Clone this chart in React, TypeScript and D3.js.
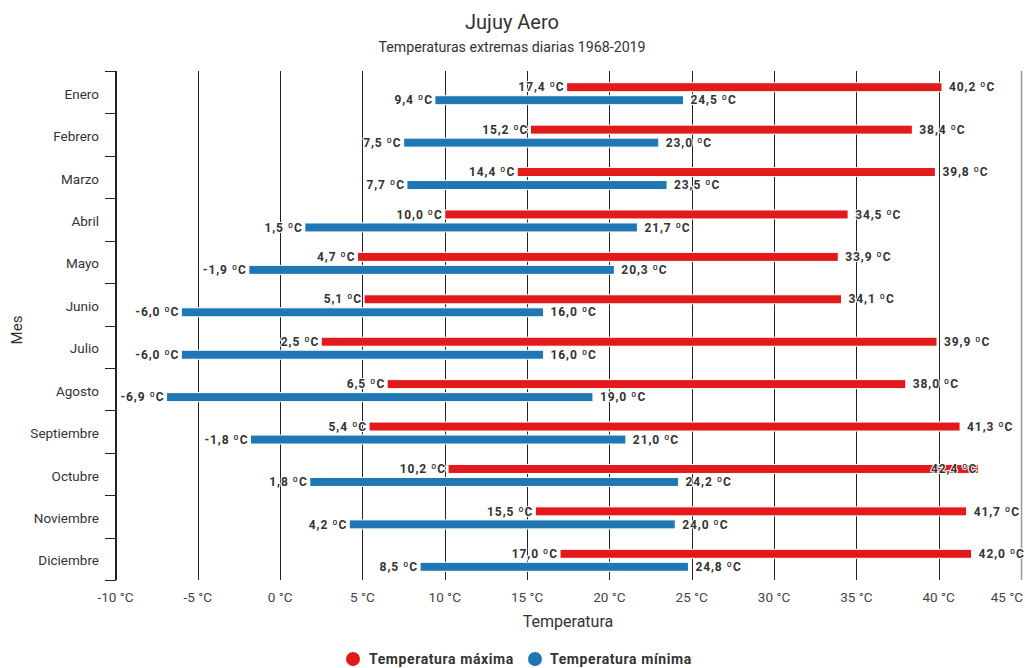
import React from "react";
import * as d3 from "d3";

const months = ["Enero","Febrero","Marzo","Abril","Mayo","Junio","Julio","Agosto","Septiembre","Octubre","Noviembre","Diciembre"];
const maxLow = [17.4,15.2,14.4,10.0,4.7,5.1,2.5,6.5,5.4,10.2,15.5,17.0];
const maxHigh = [40.2,38.4,39.8,34.5,33.9,34.1,39.9,38.0,41.3,42.4,41.7,42.0];
const minLow = [9.4,7.5,7.7,1.5,-1.9,-6.0,-6.0,-6.9,-1.8,1.8,4.2,8.5];
const minHigh = [24.5,23.0,23.5,21.7,20.3,16.0,16.0,19.0,21.0,24.2,24.0,24.8];
const xTicks = [-10,-5,0,5,10,15,20,25,30,35,40,45];

const W = 1025, H = 668;
const RED = "#e31a1c", BLUE = "#1f78b4";
const FONT = "Roboto, sans-serif";

const fmt = (v: number) => v.toFixed(1).replace(".", ",") + " ºC";

export default function App() {
  const x = d3.scaleLinear().domain([-10, 45]).range([115.5, 1021]);
  const y = d3.scaleBand().domain(months).range([71, 580]);
  const bw = y.bandwidth();
  const labelW = 46;

  const series = [
    { lows: maxLow, highs: maxHigh, color: RED, off: -5 },
    { lows: minLow, highs: minHigh, color: BLUE, off: 8 },
  ];

  const labelStyle: React.CSSProperties = {
    fontFamily: FONT, fontSize: 12, fontWeight: 700, fill: "#333",
    stroke: "#fff", strokeWidth: 2, paintOrder: "stroke", strokeLinejoin: "round",
    letterSpacing: 0.9,
  };

  return (
    <svg width={W} height={H} style={{ position: "absolute", left: 0, top: 0, background: "#fff" }}>
      <rect width={W} height={H} fill="#fff" />
      <text x={512} y={29} textAnchor="middle" style={{ fontFamily: FONT, fontSize: 20, fill: "#333" }}>Jujuy Aero</text>
      <text x={512} y={52} textAnchor="middle" style={{ fontFamily: FONT, fontSize: 14.2, fill: "#333" }}>Temperaturas extremas diarias 1968-2019</text>

      {xTicks.map((t) => (
        <line key={"g" + t} x1={Math.round(x(t)) + 0.5} x2={Math.round(x(t)) + 0.5} y1={71} y2={580}
          stroke={t === 45 ? "#999" : "#222"} strokeWidth={t === 45 ? 1.5 : 1} />
      ))}
      {xTicks.map((t, i) => {
        const last = i === xTicks.length - 1;
        return (
          <text key={"t" + t} x={last ? 1023 : x(t)} y={598} textAnchor={last ? "end" : "middle"} dominantBaseline="middle"
            style={{ fontFamily: FONT, fontSize: 13.5, fill: "#444" }}>{t + " °C"}</text>
        );
      })}
      <text x={568} y={627} textAnchor="middle" style={{ fontFamily: FONT, fontSize: 16, fill: "#333" }}>Temperatura</text>

      <line x1={115.5} x2={115.5} y1={71} y2={580} stroke="#222" />
      {months.concat(["__end"]).map((m, i) => {
        const yy = Math.round(71 + i * bw) + 0.5;
        return <line key={"yt" + i} x1={105} x2={116} y1={yy} y2={yy} stroke="#222" />;
      })}
      {months.map((m) => (
        <text key={"c" + m} x={99} y={(y(m) as number) + bw / 2 + 3} textAnchor="end" dominantBaseline="middle"
          style={{ fontFamily: FONT, fontSize: 13.5, fill: "#333" }}>{m}</text>
      ))}
      <text transform={`translate(22,330) rotate(-90)`} textAnchor="middle"
        style={{ fontFamily: FONT, fontSize: 15, fill: "#333" }}>Mes</text>

      {series.map((s, si) => months.map((m, i) => {
        const cy = (y(m) as number) + bw / 2 + s.off;
        const x0 = x(s.lows[i]), x1 = x(s.highs[i]);
        return (
          <rect key={"b" + si + m} x={x0} y={cy - 4.5} width={x1 - x0} height={9}
            fill={s.color} stroke="#fff" strokeWidth={1} />
        );
      }))}
      {series.map((s, si) => months.map((m, i) => {
        const cy = (y(m) as number) + bw / 2 + s.off + 1;
        const x0 = x(s.lows[i]), x1 = x(s.highs[i]);
        const over = x1 + 7 + labelW > W;
        return (
          <g key={"l" + si + m}>
            <text x={x0 - 2} y={cy} textAnchor="end" dominantBaseline="middle" style={labelStyle}>{fmt(s.lows[i])}</text>
            <text x={over ? x1 - 1 : x1 + 7} y={cy} textAnchor={over ? "end" : "start"} dominantBaseline="middle" style={labelStyle}>{fmt(s.highs[i])}</text>
          </g>
        );
      }))}

      <circle cx={353} cy={659} r={7} fill={RED} />
      <text x={369} y={660} dominantBaseline="middle" style={{ fontFamily: FONT, fontSize: 14, fontWeight: 700, fill: "#333", letterSpacing: 0.6 }}>Temperatura máxima</text>
      <circle cx={535} cy={659} r={7} fill={BLUE} />
      <text x={550} y={660} dominantBaseline="middle" style={{ fontFamily: FONT, fontSize: 14, fontWeight: 700, fill: "#333", letterSpacing: 0.6 }}>Temperatura mínima</text>
    </svg>
  );
}
